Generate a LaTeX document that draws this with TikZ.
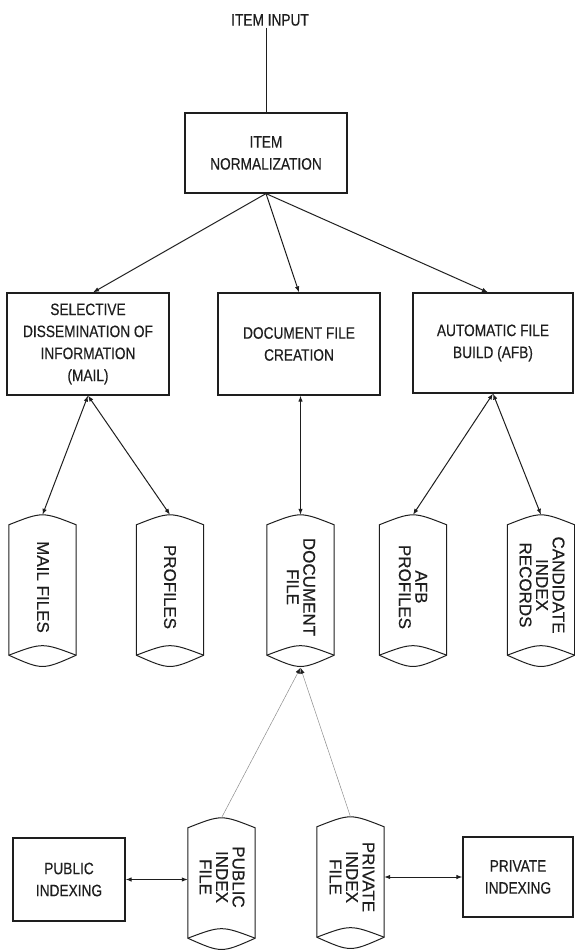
\documentclass[tikz,border=0pt]{standalone}
\usepackage{fontspec}
\setmainfont{Liberation Sans}[FakeStretch=0.83,FakeBold=0.4]
\newfontfamily\cylfont{Liberation Sans}[FakeBold=0.4]
\usetikzlibrary{arrows.meta,calc}
\definecolor{ink}{RGB}{30,30,30}
\definecolor{thinline}{RGB}{140,140,140}
\tikzset{
  box/.style={draw=ink, line width=1.2pt, rectangle, inner sep=0pt, align=center,
    font=\fontsize{16.5}{22}\selectfont, text=ink},
  body/.style={draw=none, rectangle, inner sep=0pt, minimum width=67pt},
  cyltext/.style={rotate=-90, align=center, font=\cylfont\fontsize{17}{16.5}\selectfont,
    text=ink, inner sep=0pt},
  cylline/.style={draw=ink, line width=1pt},
  conn/.style={draw=ink, line width=1pt},
  faint/.style={draw=thinline, line width=0.5pt},
  onetip/.style={-{Latex[length=6pt,width=4.5pt,color=ink]}},
  twotip/.style={{Latex[length=6pt,width=4.5pt,color=ink]}-{Latex[length=6pt,width=4.5pt,color=ink]}},
  backtip/.style={{Latex[length=6pt,width=4.5pt,color=ink]}-},
}
\newcommand\cylbody[1]{%
  \draw[cylline] (#1.north west) -- (#1.south west)
    .. controls ($(#1.south)+(0,15)$) .. (#1.south east)
    -- (#1.north east)
    .. controls ($(#1.north)+(0,-13.3)$) .. (#1.north west) -- cycle;
  \draw[cylline] (#1.south west) .. controls ($(#1.south)+(0,-12.7)$) .. (#1.south east);
}
\begin{document}
\begin{tikzpicture}[x=1pt,y=-1pt]
\useasboundingbox (0,0) rectangle (574,950);

% top
\node[font=\fontsize{16.5}{22}\selectfont, text=ink, inner sep=2pt] (input) at (270,20) {ITEM INPUT};
\node[box, minimum width=162pt, minimum height=80pt] (norm) at (266,153) {ITEM\\NORMALIZATION};
\draw[conn] (norm.north |- input.south) -- (norm.north);

% second row
\node[box, minimum width=162pt, minimum height=102pt] (sdi) at (88,344)
  {SELECTIVE\\DISSEMINATION OF\\INFORMATION\\(MAIL)};
\node[box, minimum width=162pt, minimum height=102pt] (dfc) at (299,344)
  {DOCUMENT FILE\\CREATION};
\node[box, minimum width=160pt, minimum height=100pt] (afb) at (493,343)
  {AUTOMATIC FILE\\BUILD (AFB)};

\draw[conn, onetip] (norm.south) -- ($(sdi.north)+(5,0)$);
\draw[conn, onetip] (norm.south) -- (dfc.north);
\draw[conn, onetip] (norm.south) -- ($(afb.north)+(-5,0)$);

% cylinders, upper row
\node[body, minimum height=130pt] (mail) at (42.5,590) {};
\node[body, minimum height=130pt] (prof) at (170,590) {};
\node[body, minimum height=130pt] (doc) at (300.5,590) {};
\node[body, minimum height=130pt] (afbp) at (413,590) {};
\node[body, minimum height=130pt] (cand) at (541,590) {};
\cylbody{mail}
\cylbody{prof}
\cylbody{doc}
\cylbody{afbp}
\cylbody{cand}
\node[cyltext] (mailt) at (43,587) {MAIL FILES};
\node[cyltext] (proft) at (170,587) {PROFILES};
\node[cyltext] (doct) at (301,587) {DOCUMENT\\FILE};
\node[cyltext] (afbpt) at (413,587) {AFB\\PROFILES};
\node[cyltext] (candt) at (542,585) {CANDIDATE\\INDEX\\RECORDS};

\foreach \c in {mail,prof,doc,afbp,cand}{
  \coordinate (\c top) at ($(\c.north)+(0,-10)$);
}
\coordinate (docbot) at ($(doc.south)+(0,12.5)$);

\draw[conn, twotip] (sdi.south) -- (mailtop);
\draw[conn, twotip] (sdi.south) -- (proftop);
\draw[conn, twotip] (dfc.south -| doctop) -- (doctop);
\draw[conn, twotip] (afb.south) -- (afbptop);
\draw[conn, twotip] (afb.south) -- (candtop);

% bottom row
\node[body, minimum height=110pt] (pub) at (221.5,883) {};
\node[body, minimum height=110pt] (priv) at (350.5,882) {};
\cylbody{pub}
\cylbody{priv}
\node[cyltext] (pubt) at (222,877) {PUBLIC\\INDEX\\FILE};
\node[cyltext] (privt) at (352,877) {PRIVATE\\INDEX\\FILE};
\coordinate (pubtop) at ($(pub.north)+(0,-10)$);
\coordinate (privtop) at ($(priv.north)+(0,-10)$);

\node[box, minimum width=112pt, minimum height=83pt] (pubidx) at (69,879.5) {PUBLIC\\INDEXING};
\node[box, minimum width=110pt, minimum height=80pt] (prividx) at (518,877) {PRIVATE\\INDEXING};

\draw[faint, backtip] (docbot) -- (pubtop);
\draw[faint, backtip] (docbot) -- (privtop);
\draw[conn, twotip] (pubidx.east) -- (pubidx.east -| pub.west);
\draw[conn, twotip] (priv.east |- prividx.west) -- (prividx.west);
\end{tikzpicture}
\end{document}
